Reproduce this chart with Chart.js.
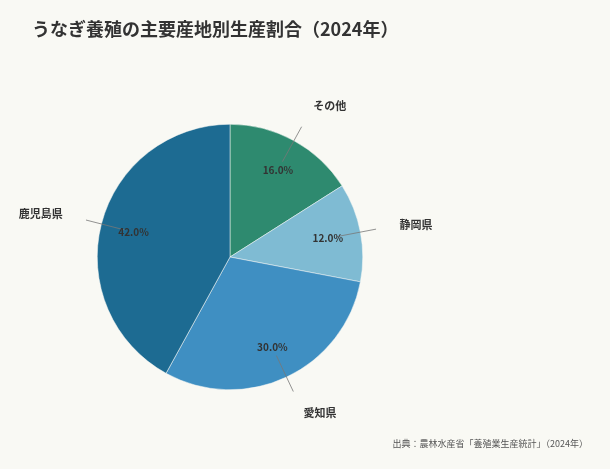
<!DOCTYPE html><html><head><meta charset="utf-8">
<script src="https://cdn.jsdelivr.net/npm/chart.js@4"></script>
<style>html,body{margin:0;background:#f9f9f4}</style></head><body>
<div style="width:610px;height:469px"><canvas id="c"></canvas></div>
<script>
const categories=['その他','静岡県','愛知県','鹿児島県'];
const values=[16.0,12.0,30.0,42.0];
const colors=['#2e8a6f','#7fbbd3','#3f8fc2','#1d6b92'];
const F='"Noto Sans CJK JP","Noto Sans",sans-serif';
const labelPlugin={id:'lbl',afterDatasetsDraw(ch){
 const ctx=ch.ctx;const arcs=ch.getDatasetMeta(0).data;
 arcs.forEach((a,i)=>{
  const mid=(a.startAngle+a.endAngle)/2,r=a.outerRadius,cx=a.x,cy=a.y;
  const p=k=>[cx+Math.cos(mid)*r*k,cy+Math.sin(mid)*r*k];
  const [x1,y1]=p(0.82),[x2,y2]=p(1.12),[lx,ly]=p(1.3);
  ctx.save();ctx.strokeStyle='#777';ctx.lineWidth=0.8;
  ctx.beginPath();ctx.moveTo(x1,y1);ctx.lineTo(x2,y2);ctx.stroke();
  ctx.fillStyle='#333';ctx.font='bold 11px '+F;ctx.textBaseline='middle';
  ctx.textAlign=Math.cos(mid)>0.2?'left':(Math.cos(mid)<-0.2?'right':'center');
  ctx.fillText(categories[i],lx,ly);
  const [px,py]=p(0.75);ctx.textAlign='center';ctx.font='bold 10px '+F;
  ctx.fillText(values[i].toFixed(1)+'%',px,py);
  ctx.restore();});
 ctx.save();ctx.fillStyle='#333';ctx.font='bold 18px '+F;ctx.textBaseline='middle';
 ctx.fillText('うなぎ養殖の主要産地別生産割合（2024年）',32,29);
 ctx.font='9px '+F;ctx.fillStyle='#555';ctx.textAlign='right';
 ctx.fillText('出典：農林水産省「養殖業生産統計」（2024年）',588,444);ctx.restore();}};
new Chart(document.getElementById('c'),{type:'pie',
 data:{labels:categories,datasets:[{data:values,backgroundColor:colors,borderColor:'#f9f9f4',borderWidth:0.5}]},
 options:{responsive:true,maintainAspectRatio:false,animation:false,
  layout:{padding:{top:124,bottom:79,left:97,right:247}},
  plugins:{legend:{display:false},tooltip:{enabled:false}}},
 plugins:[labelPlugin]});
</script></body></html>
